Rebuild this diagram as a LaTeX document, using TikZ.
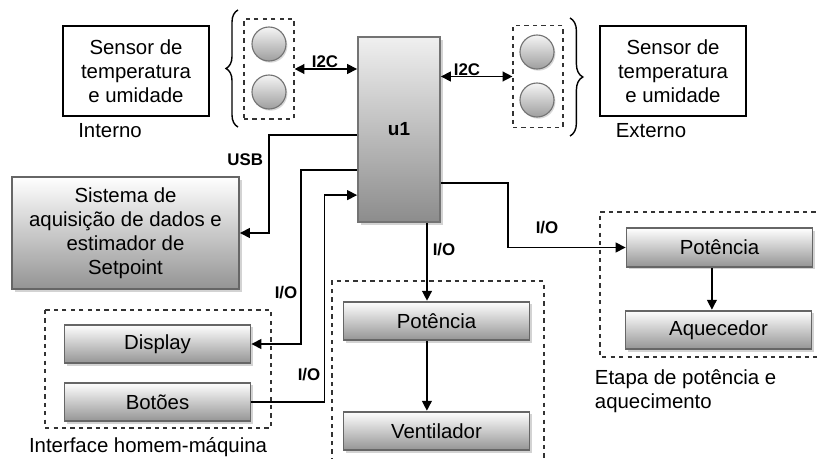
\documentclass[tikz,border=0pt]{standalone}
\usepackage{fontspec}
\setmainfont{Liberation Sans}
\usetikzlibrary{arrows.meta,shadows,decorations.pathreplacing}

\begin{document}
\begin{tikzpicture}
    [
      x=0.025cm, y=-0.025cm,
      font=\fontsize{14.5}{17}\selectfont,
      sensor/.style={draw=black,line width=0.8pt,fill=white,rectangle,align=center,
        minimum width=3.65cm,minimum height=2.25cm,inner sep=0pt},
      block/.style={draw=black!60,line width=1.3pt,rectangle,top color=white,
        bottom color=black!42,align=center,inner sep=0pt,
        drop shadow={opacity=0.35,shadow xshift=1.8pt,shadow yshift=-1.8pt},
        minimum width=4.65cm,minimum height=0.97cm},
      lamp/.style={circle,draw=black!55,line width=0.8pt,top color=black!4,
        bottom color=black!38,minimum size=0.85cm,inner sep=0pt,
        drop shadow={opacity=0.3,shadow xshift=1pt,shadow yshift=-1.2pt}},
      bus/.style={draw=black!80,dashed,line width=0.8pt,rectangle,inner sep=0pt},
      group/.style={draw=black!80,dashed,line width=0.8pt},
      link/.style={line width=1pt,draw=black,>={Triangle[length=7pt,width=7pt]}},
      tag/.style={font=\fontsize{12}{14}\selectfont\bfseries},
      caption/.style={align=left}
    ]
    \useasboundingbox (0,0) rectangle (820,459);

    % sensors
    \node at (136,71) [sensor] (intsensor) {Sensor de\\temperatura\\e umidade};
    \node at (673,71) [sensor] (extsensor) {Sensor de\\temperatura\\e umidade};
    \node at (110,131) {Interno};
    \node at (651,131) {Externo};

    \node at (269,69) [bus,minimum width=1.25cm,minimum height=2.5cm] (intbus) {};
    \node at (538,76.5) [bus,minimum width=1.25cm,minimum height=2.53cm] (extbus) {};
    \node at (269,44) [lamp] (intlamp1) {};
    \node at (269,92) [lamp] (intlamp2) {};
    \node at (537,52) [lamp] (extlamp1) {};
    \node at (537,100) [lamp] (extlamp2) {};

    \draw [line width=1pt,decorate,decoration={brace,amplitude=0.3cm}]
      (238,127) -- (238,10);
    \draw [line width=1pt,decorate,decoration={brace,amplitude=0.32cm}]
      (570,18) -- (570,136);

    % controller
    \node at (399,129.5) [block,draw=black!55,top color=black!6,bottom color=black!45,
      minimum width=2.05cm,minimum height=4.625cm] (u1)
      {\fontsize{13.5}{16}\selectfont\bfseries u1};

    \draw [link,<->] (intbus) -- (intbus -| u1.west);
    \draw [link,<->] (u1.east |- extbus) -- (extbus);
    \node at (325,62) [tag] {I2C};
    \node at (467,70) [tag] {I2C};

    % acquisition
    \node at (125.5,233) [block,minimum width=5.675cm,minimum height=2.8cm] (sistema)
      {Sistema de\\aquisição de dados e\\estimador de\\Setpoint};
    \draw [link,->] ([yshift=-0.14cm]u1.west) -- ++(-88,0) |- (sistema.east);
    \node at (268,160) [tag,anchor=east] {USB};

    % interface
    \draw [group] (45,310) rectangle (271,428);
    \node at (157.5,344) [block] (display) {Display};
    \node at (157.5,402) [block] (botoes) {Botões};
    \node at (148,447) {Interface homem-máquina};
    \draw [link,->] ([yshift=-1.01cm]u1.west) -- ++(-56,0) |- (display.east);
    \draw [link,->] (botoes.east) -- ++(73,0) |- ([yshift=-1.64cm]u1.west);
    \node at (286,293) [tag] {I/O};
    \node at (309,375) [tag] {I/O};

    % ventilation
    \draw [group] (332,462) |- (544,281) -- (544,462);
    \node at (436.5,321) [block] (potvent) {Potência};
    \node at (436.5,431) [block] (ventilador) {Ventilador};
    \draw [link,->] ([xshift=0.7cm]u1.south) -- ([xshift=0.7cm]u1.south |- potvent.north);
    \draw [link,->] ([xshift=-0.24cm]potvent.south) -- ([xshift=-0.24cm]ventilador.north);
    \node at (444,250) [tag] {I/O};

    % heating
    \draw [group] (824,212) -| (600,357) -- (824,357);
    \node at (719.5,247.5) [block] (potaquec) {Potência};
    \node at (718.5,330) [block] (aquecedor) {Aquecedor};
    \draw [link,->] ([yshift=-1.34cm]u1.east) -- ++(67,0) |- (potaquec.west);
    \draw [link,->] ([xshift=-0.19cm]potaquec.south) -- ([xshift=-0.19cm]potaquec.south |- aquecedor.north);
    \node at (547,228) [tag] {I/O};
    \node at (590,391) [caption,anchor=west] {Etapa de potência e\\aquecimento};
\end{tikzpicture}
\end{document}
